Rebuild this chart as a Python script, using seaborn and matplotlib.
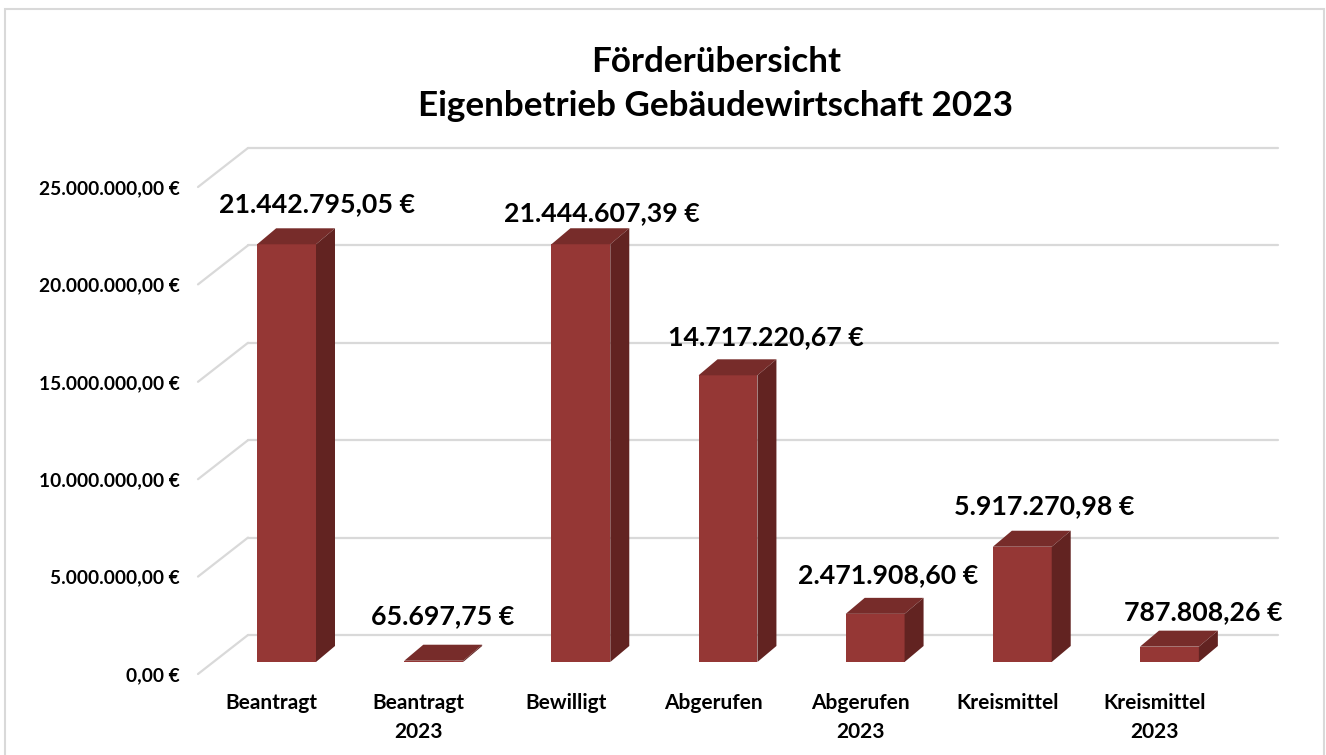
import matplotlib
matplotlib.use("Agg")
import matplotlib.pyplot as plt
import matplotlib.transforms as mtransforms
from matplotlib.patches import Polygon, Rectangle
from matplotlib.lines import Line2D
import seaborn as sns
import pandas as pd

# data
categories = ["Beantragt", "Beantragt\n2023", "Bewilligt", "Abgerufen",
              "Abgerufen\n2023", "Kreismittel", "Kreismittel\n2023"]
values = [21442795.05, 65697.75, 21444607.39, 14717220.67,
          2471908.60, 5917270.98, 787808.26]
yticks = [0, 5e6, 10e6, 15e6, 20e6, 25e6]
title = "Förderübersicht\nEigenbetrieb Gebäudewirtschaft 2023"

# small pixel nudges for the value labels (dx right, dy above bar top)
label_nudge = [(30, 40), (9, 45), (21, 31), (38, 38), (13, 39), (22, 41), (34, 35)]

FRONT = "#953735"
TOP = "#772c2a"
SIDE = "#622321"
GRID = "#d9d9d9"


def euro(v):
    s = f"{v:,.2f}".replace(",", "X").replace(".", ",").replace("X", ".")
    return s + " €"


sns.set_theme(style="white")
plt.rcParams["font.family"] = ["Lato", "DejaVu Sans"]
plt.rcParams["font.weight"] = "bold"
plt.rcParams["text.color"] = "black"
plt.rcParams["xtick.color"] = "black"
plt.rcParams["ytick.color"] = "black"

W, H = 1326, 755
fig = plt.figure(figsize=(W / 100, H / 100), dpi=100)
fig.patch.set_facecolor("white")

# axes = front plane of the bars (0 at y=662 px, 25 Mio at y=175 px)
ax = fig.add_axes([213 / W, (H - 662) / H, 1030 / W, 487 / H])
df = pd.DataFrame({"cat": categories, "val": values})
sns.barplot(data=df, x="cat", y="val", color=FRONT, saturation=1,
            width=0.4, ax=ax, zorder=3, linewidth=0)
ax.set_xlim(-0.5, 6.5)
ax.set_ylim(0, 25e6)
ax.set_xlabel("")
ax.set_ylabel("")
for sp in ax.spines.values():
    sp.set_visible(False)
ax.patch.set_alpha(0)

# pixels per data unit
ppx = 1030 / 7
ppy = 487 / 25e6

# depth of the bars and of the floor/wall (pixels)
bdx, bdy = 19, 16
wall_dx, wall_dy = 35, 27
floor_dx, floor_dy = -15, -12

# back wall grid lines and floor diagonals
for v in yticks:
    x0, x1 = -0.5, 6.5
    yb = v + wall_dy / ppy
    ax.add_line(Line2D([x0 + wall_dx / ppx, x1 + wall_dx / ppx], [yb, yb],
                       color=GRID, lw=1.6, clip_on=False, zorder=1))
    ax.add_line(Line2D([x0 + floor_dx / ppx, x0 + wall_dx / ppx],
                       [v + floor_dy / ppy, yb],
                       color=GRID, lw=1.6, clip_on=False, zorder=1))

# fake 3d faces on each bar
for bar, val, (ndx, ndy) in zip(ax.patches, values, label_nudge):
    x = bar.get_x()
    w = bar.get_width()
    h = bar.get_height()
    ddx, ddy = bdx / ppx, bdy / ppy
    top = Polygon([(x, h), (x + w, h), (x + w + ddx, h + ddy), (x + ddx, h + ddy)],
                  closed=True, facecolor=TOP, edgecolor="none", zorder=3,
                  clip_on=False)
    side = Polygon([(x + w, 0), (x + w + ddx, ddy), (x + w + ddx, h + ddy), (x + w, h)],
                   closed=True, facecolor=SIDE, edgecolor="none", zorder=3,
                   clip_on=False)
    ax.add_patch(top)
    ax.add_patch(side)
    ax.text(x + w / 2 + ndx / ppx, h + ndy / ppy, euro(val), ha="center",
            va="center", fontsize=19.3, fontweight="bold", color="black",
            zorder=5, clip_on=False)

# tick labels sit on the front edge of the floor
ax.set_yticks(yticks)
ax.set_yticklabels([euro(v) for v in yticks], fontsize=13.8, fontweight="bold")
ax.tick_params(axis="y", length=0, pad=13)
ax.tick_params(axis="x", length=0, pad=14)
ax.set_xticks(range(len(categories)))
ax.set_xticklabels(categories, fontsize=15, fontweight="bold", linespacing=1.55)
shift = mtransforms.ScaledTranslation(floor_dx / 100, floor_dy / 100, fig.dpi_scale_trans)
for lab in ax.get_xticklabels() + ax.get_yticklabels():
    lab.set_transform(lab.get_transform() + shift)

fig.text(716 / W, 1 - 84 / H, title, ha="center", va="center", fontsize=25.2,
         fontweight="bold", linespacing=1.45, color="black")

# chart border
fig.add_artist(Rectangle((5 / W, -0.02), 1319 / W, 1 - 9 / H + 0.02,
                         transform=fig.transFigure, fill=False,
                         edgecolor="#d9d9d9", lw=1.5))

fig.savefig("out.png", dpi=100)
